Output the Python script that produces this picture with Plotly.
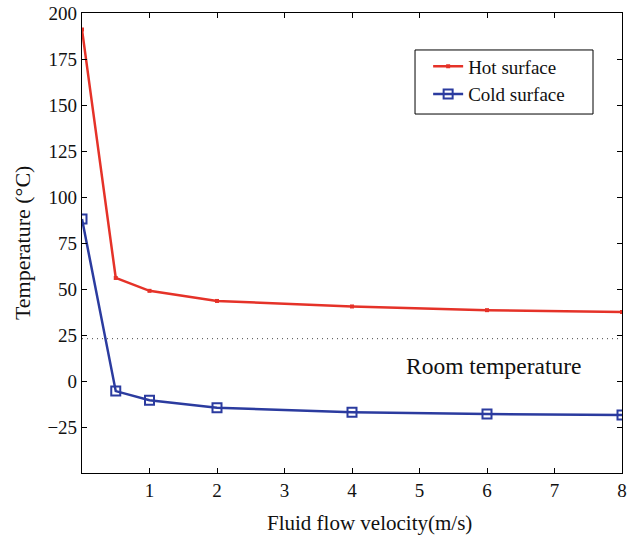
import plotly.graph_objects as go

velocity = [0, 0.5, 1, 2, 4, 6, 8]
hot_surface = [191, 56, 49, 43.5, 40.5, 38.5, 37.5]
cold_surface = [88, -5.5, -10.5, -14.5, -17, -18, -18.5]
room_temp = 23
x_ticks = [1, 2, 3, 4, 5, 6, 7, 8]
y_ticks = [-25, 0, 25, 50, 75, 100, 125, 150, 175, 200]

font = "Liberation Serif"
txt = "#111111"

fig = go.Figure()
fig.add_trace(go.Scatter(
    x=[velocity[0], velocity[-1]], y=[room_temp, room_temp], mode="lines",
    line=dict(color="#444444", width=1, dash="1px,4px"), showlegend=False, hoverinfo="skip"))
fig.add_trace(go.Scatter(
    x=velocity, y=hot_surface, mode="lines+markers", name="Hot surface",
    line=dict(color="#e53228", width=2.5),
    marker=dict(symbol="square", size=4, color="#e53228")))
fig.add_trace(go.Scatter(
    x=velocity, y=cold_surface, mode="lines+markers", name="Cold surface",
    line=dict(color="#2b3b9f", width=2.5),
    marker=dict(symbol="square-open", size=9, color="#2b3b9f", line=dict(width=2))))

fig.add_annotation(x=6.1, y=8, text="Room temperature", showarrow=False,
                   font=dict(family=font, size=23.5, color=txt))
# axis titles
fig.add_annotation(xref="paper", yref="paper", x=0.533, y=-0.109, xanchor="center", yanchor="middle",
                   text="Fluid flow velocity(m/s)", showarrow=False,
                   font=dict(family=font, size=21, color=txt))
fig.add_annotation(xref="paper", yref="paper", x=-0.111, y=0.5, xanchor="center", yanchor="middle",
                   text="Temperature (°C)", textangle=-90, showarrow=False,
                   font=dict(family=font, size=22, color=txt))

# legend frame
fig.add_shape(type="rect", xref="paper", yref="paper", x0=0.6167, x1=0.9463, y0=0.7804, y1=0.9196,
              line=dict(color="black", width=1), fillcolor="white", layer="above")

axis_common = dict(showline=True, linecolor="black", linewidth=1.2, mirror="ticks",
                   ticks="inside", ticklen=5, tickcolor="black", showgrid=False,
                   zeroline=False, automargin=False,
                   tickfont=dict(family=font, size=19, color=txt))

fig.update_xaxes(range=[0, 8], tickvals=x_ticks, **axis_common)
fig.update_yaxes(range=[-50, 200], tickvals=y_ticks, **axis_common)

fig.update_layout(
    width=627, height=537,
    margin=dict(l=82, r=5, t=13, b=64),
    plot_bgcolor="white", paper_bgcolor="white",
    legend=dict(x=0.641, y=0.925, xanchor="left", yanchor="top",
                borderwidth=0, bgcolor="rgba(0,0,0,0)",
                font=dict(family=font, size=19, color=txt),
                tracegroupgap=2),
)

fig.write_html("out.html")
